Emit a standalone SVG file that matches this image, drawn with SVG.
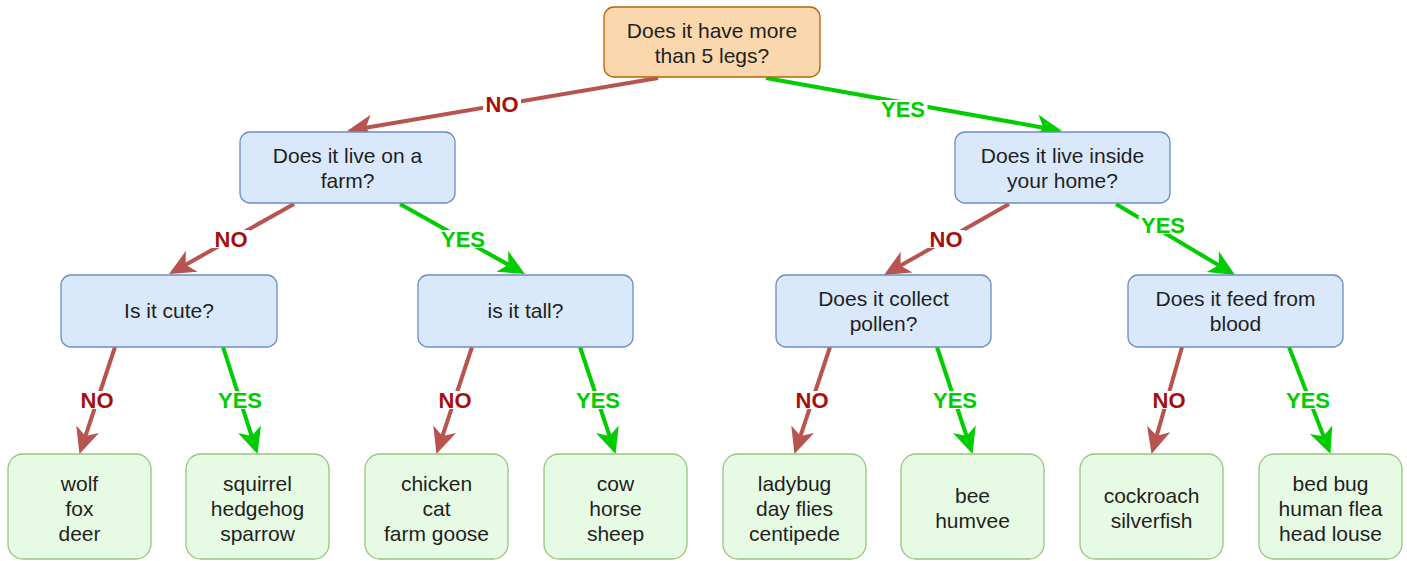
<svg xmlns="http://www.w3.org/2000/svg" width="1407" height="561" viewBox="0 0 1407 561">
  <defs>
    <style>
      .box text, .leaf text { font-family: "Liberation Sans", Arial, sans-serif; font-size: 21px; fill: #1f1f1f; text-anchor: middle; }
      .root rect { fill: #fad7ac; stroke: #b46504; stroke-width: 1.3; }
      .q rect { fill: #dae8fc; stroke: #6c8ebf; stroke-width: 1.3; }
      .leaf rect { fill: #e7fbe4; stroke: #97c47f; stroke-width: 1.3; }
      .no { stroke: #b85450; stroke-width: 4; fill: none; marker-end: url(#arrNo); }
      .yes { stroke: #00cc00; stroke-width: 4; fill: none; marker-end: url(#arrYes); }
      .lbl rect { fill: #ffffff; }
      .lbl text { font-family: "Liberation Sans", Arial, sans-serif; font-size: 22px; font-weight: bold; text-anchor: middle; }
      .lbl.n text { fill: #a50f0f; }
      .lbl.y text { fill: #00cc00; }
    </style>
    <!-- classic notched arrowhead; the line ends 16px short of the tip -->
    <marker id="arrNo" markerUnits="userSpaceOnUse" viewBox="-12 -14 30 28" markerWidth="30" markerHeight="28" refX="0" refY="0" orient="auto" overflow="visible">
      <path d="M16,0 L-10,-12 L-3,0 L-10,12 Z" fill="#b85450"/>
    </marker>
    <marker id="arrYes" markerUnits="userSpaceOnUse" viewBox="-12 -14 30 28" markerWidth="30" markerHeight="28" refX="0" refY="0" orient="auto" overflow="visible">
      <path d="M16,0 L-10,-12 L-3,0 L-10,12 Z" fill="#00cc00"/>
    </marker>
  </defs>

  <rect width="1407" height="561" fill="#ffffff"/>

  <!-- connectors -->
  <g id="connectors">
    <path class="no" d="M658,78 L362.8,128.3"/>
    <path class="yes" d="M766,78 L1046.3,128.2"/>
    <path class="no" d="M294,204 L183,266.2"/>
    <path class="yes" d="M400,204 L511,266.2"/>
    <path class="no" d="M1009,204 L897.9,267.1"/>
    <path class="yes" d="M1116,204 L1221.3,266.8"/>
    <path class="no" d="M115,347 L84.5,438.8"/>
    <path class="yes" d="M223,347 L252.6,438.8"/>
    <path class="no" d="M472,347 L441.5,438.8"/>
    <path class="yes" d="M580,347 L610.5,438.8"/>
    <path class="no" d="M830,347 L799.5,438.8"/>
    <path class="yes" d="M937,347 L967.5,438.8"/>
    <path class="no" d="M1182,347 L1155.9,438.6"/>
    <path class="yes" d="M1289,347 L1324.7,439.1"/>

    <g class="lbl n"><rect x="483" y="95" width="38" height="18"/><text x="502" y="112">NO</text></g>
    <g class="lbl y"><rect x="878.5" y="100" width="49" height="18"/><text x="903" y="117">YES</text></g>
    <g class="lbl n"><rect x="212" y="230" width="38" height="18"/><text x="231" y="247">NO</text></g>
    <g class="lbl y"><rect x="438.5" y="230" width="49" height="18"/><text x="463" y="247">YES</text></g>
    <g class="lbl n"><rect x="927" y="230" width="38" height="18"/><text x="946" y="247">NO</text></g>
    <g class="lbl y"><rect x="1138.5" y="216" width="49" height="18"/><text x="1163" y="233">YES</text></g>
    <g class="lbl n"><rect x="78" y="391" width="38" height="18"/><text x="97" y="408">NO</text></g>
    <g class="lbl y"><rect x="215.5" y="391" width="49" height="18"/><text x="240" y="408">YES</text></g>
    <g class="lbl n"><rect x="436" y="391" width="38" height="18"/><text x="455" y="408">NO</text></g>
    <g class="lbl y"><rect x="573.5" y="391" width="49" height="18"/><text x="598" y="408">YES</text></g>
    <g class="lbl n"><rect x="793" y="391" width="38" height="18"/><text x="812" y="408">NO</text></g>
    <g class="lbl y"><rect x="930.5" y="391" width="49" height="18"/><text x="955" y="408">YES</text></g>
    <g class="lbl n"><rect x="1150" y="391" width="38" height="18"/><text x="1169" y="408">NO</text></g>
    <g class="lbl y"><rect x="1283.5" y="391" width="49" height="18"/><text x="1308" y="408">YES</text></g>
  </g>

  <!-- question nodes -->
  <g id="n-legs" class="box root">
    <rect x="604" y="7" width="216" height="70" rx="10"/>
    <text x="712" y="38">Does it have more</text>
    <text x="712" y="63">than 5 legs?</text>
  </g>
  <g id="n-farm" class="box q">
    <rect x="240" y="132" width="215" height="71" rx="10"/>
    <text x="347.5" y="163">Does it live on a</text>
    <text x="347.5" y="188">farm?</text>
  </g>
  <g id="n-home" class="box q">
    <rect x="955" y="132" width="215" height="71" rx="10"/>
    <text x="1062.5" y="163">Does it live inside</text>
    <text x="1062.5" y="188">your home?</text>
  </g>
  <g id="n-cute" class="box q">
    <rect x="61" y="275" width="216" height="72" rx="10"/>
    <text x="169" y="318">Is it cute?</text>
  </g>
  <g id="n-tall" class="box q">
    <rect x="418" y="275" width="215" height="72" rx="10"/>
    <text x="525.5" y="318">is it tall?</text>
  </g>
  <g id="n-pollen" class="box q">
    <rect x="776" y="275" width="215" height="72" rx="10"/>
    <text x="883.5" y="306">Does it collect</text>
    <text x="883.5" y="331">pollen?</text>
  </g>
  <g id="n-blood" class="box q">
    <rect x="1128" y="275" width="215" height="72" rx="10"/>
    <text x="1235.5" y="306">Does it feed from</text>
    <text x="1235.5" y="331">blood</text>
  </g>

  <!-- answer nodes -->
  <g id="a-wild" class="leaf">
    <rect x="8" y="454" width="143" height="105" rx="15"/>
    <text x="79.5" y="491">wolf</text><text x="79.5" y="516">fox</text><text x="79.5" y="541">deer</text>
  </g>
  <g id="a-garden" class="leaf">
    <rect x="186" y="454" width="143" height="105" rx="15"/>
    <text x="257.5" y="491">squirrel</text><text x="257.5" y="516">hedgehog</text><text x="257.5" y="541">sparrow</text>
  </g>
  <g id="a-small-farm" class="leaf">
    <rect x="365" y="454" width="143" height="105" rx="15"/>
    <text x="436.5" y="491">chicken</text><text x="436.5" y="516">cat</text><text x="436.5" y="541">farm goose</text>
  </g>
  <g id="a-big-farm" class="leaf">
    <rect x="544" y="454" width="143" height="105" rx="15"/>
    <text x="615.5" y="491">cow</text><text x="615.5" y="516">horse</text><text x="615.5" y="541">sheep</text>
  </g>
  <g id="a-outdoor-bugs" class="leaf">
    <rect x="723" y="454" width="143" height="105" rx="15"/>
    <text x="794.5" y="491">ladybug</text><text x="794.5" y="516">day flies</text><text x="794.5" y="541">centipede</text>
  </g>
  <g id="a-pollinators" class="leaf">
    <rect x="901" y="454" width="143" height="105" rx="15"/>
    <text x="972.5" y="503">bee</text><text x="972.5" y="528">humvee</text>
  </g>
  <g id="a-house-pests" class="leaf">
    <rect x="1080" y="454" width="143" height="105" rx="15"/>
    <text x="1151.5" y="503">cockroach</text><text x="1151.5" y="528">silverfish</text>
  </g>
  <g id="a-parasites" class="leaf">
    <rect x="1259" y="454" width="143" height="105" rx="15"/>
    <text x="1330.5" y="491">bed bug</text><text x="1330.5" y="516">human flea</text><text x="1330.5" y="541">head louse</text>
  </g>
</svg>
